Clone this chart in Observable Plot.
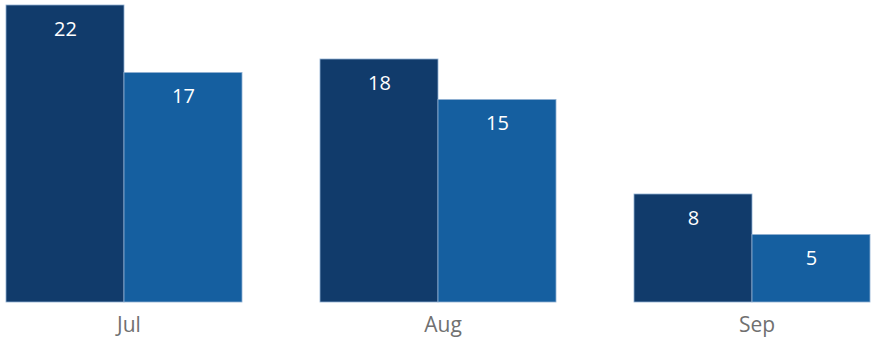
<!DOCTYPE html>
<html>
<head>
<meta charset="utf-8">
<script src="https://cdn.jsdelivr.net/npm/d3@7"></script>
<script src="https://cdn.jsdelivr.net/npm/@observablehq/plot@0.6"></script>
<style>
  html, body { margin: 0; padding: 0; background: #fff; }
  #chart svg { display: block; }
</style>
</head>
<body>
<div id="chart"></div>
<script>
const months = ["Jul", "Aug", "Sep"];
const series = ["A", "B"];
const valuesA = [22, 18, 8];
const valuesB = [17, 15, 5];
const colors = ["#113B6B", "#155FA0"];

const data = [];
months.forEach((m, i) => {
  data.push({month: m, series: series[0], value: valuesA[i]});
  data.push({month: m, series: series[1], value: valuesB[i]});
});

const chart = Plot.plot({
  width: 876,
  height: 339,
  marginLeft: 4,
  marginRight: 4,
  marginTop: 5,
  marginBottom: 37,
  style: {fontFamily: "'Open Sans', sans-serif", background: "#fff"},
  fx: {domain: months, paddingInner: 0.244, paddingOuter: 0},
  x: {domain: series, padding: 0, axis: null},
  y: {domain: [0, 22], axis: null},
  color: {domain: series, range: colors},
  marks: [
    Plot.barY(data, {fx: "month", x: "series", y: "value", fill: "series", stroke: "#8FB0D2", strokeWidth: 0.8}),
    Plot.text(data, {fx: "month", x: "series", y: "value", text: d => String(d.value), dy: 24, fill: "white", fontSize: 20}),
    Plot.axisFx({anchor: "bottom", tickSize: 0, tickPadding: 15, dx: 5, label: null, fontSize: 21, fill: "#707070"})
  ]
});
document.getElementById("chart").appendChild(chart);
</script>
</body>
</html>
